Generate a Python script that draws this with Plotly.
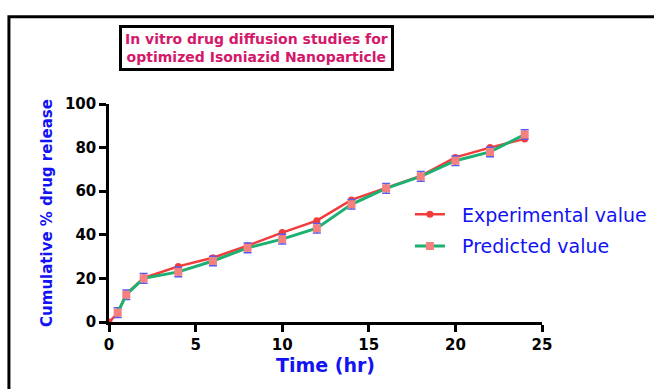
import plotly.graph_objects as go

time_exp = [0, 0.5, 1, 2, 4, 6, 8, 10, 12, 14, 16, 18, 20, 22, 24]
release_exp = [0, 4, 12.8, 20.2, 25.5, 29.5, 35, 41, 46.5, 56, 61.5, 67, 75.5, 80, 84]
time_pred = [0.5, 1, 2, 4, 6, 8, 10, 12, 14, 16, 18, 20, 22, 24]
release_pred = [4.3, 12.5, 20, 23, 28, 34, 38, 43, 54, 61.3, 66.8, 74, 78, 86]

x_ticks = [0, 5, 10, 15, 20, 25]
y_ticks = [0, 20, 40, 60, 80, 100]

title_text = "In vitro drug diffusion studies for<br>optimized Isoniazid Nanoparticle"

BLUE = "#1212f2"
TICKFONT = dict(family="DejaVu Sans", size=15, color="black", weight="bold")

fig = go.Figure()
fig.add_trace(go.Scatter(
    x=time_exp, y=release_exp, mode="lines+markers",
    name="  Experimental value", legendgroup="a",
    line=dict(color="#f23c3c", width=2.5),
    marker=dict(symbol="circle", size=7, color="#f23c3c"),
    cliponaxis=False,
))
fig.add_trace(go.Scatter(
    x=time_pred, y=release_pred, mode="lines+markers",
    name="  Predicted value", legendgroup="b",
    line=dict(color="#1cb072", width=3),
    marker=dict(symbol="square", size=8, color="#f58080"),
    error_y=dict(type="constant", value=2.2, color="#5a5aee", thickness=1.5, width=4),
    cliponaxis=False,
))

fig.update_layout(
    width=654, height=389,
    margin=dict(l=109, r=112, t=104, b=67, autoexpand=False),
    paper_bgcolor="white", plot_bgcolor="white",
    showlegend=True,
    legend=dict(
        x=0.695, xanchor="left", y=0.42, yanchor="middle",
        font=dict(family="DejaVu Sans", size=19, color=BLUE),
        bgcolor="rgba(0,0,0,0)", tracegroupgap=4, traceorder="grouped",
    ),
    xaxis=dict(
        range=[0, 25], tickvals=x_ticks, ticktext=[str(v) for v in x_ticks],
        showgrid=False, zeroline=False, showline=True, linecolor="black", linewidth=2.5,
        ticks="outside", ticklen=7, tickwidth=2.5, tickcolor="black",
        tickfont=TICKFONT,
        title=dict(text="Time (hr)", standoff=5,
                   font=dict(family="DejaVu Sans", size=19, color=BLUE, weight="bold")),
    ),
    yaxis=dict(
        range=[0, 100], tickvals=y_ticks, ticktext=[str(v) for v in y_ticks],
        showgrid=False, zeroline=False, showline=True, linecolor="black", linewidth=2.5,
        ticks="outside", ticklen=7, tickwidth=2.5, tickcolor="black",
        tickfont=TICKFONT,
        title=dict(text="Cumulative % drug release", standoff=9,
                   font=dict(family="DejaVu Sans", size=15, color=BLUE, weight="bold")),
    ),
    annotations=[dict(
        text=title_text, xref="paper", yref="paper",
        x=(256.5 - 109) / 432.7, y=(322 - 47.5) / 218,
        xanchor="center", yanchor="middle", showarrow=False,
        font=dict(family="DejaVu Sans", size=14, color="#d4186a", weight="bold"),
        bordercolor="black", borderwidth=3, borderpad=3, bgcolor="white",
    )],
    shapes=[dict(
        type="rect", xref="paper", yref="paper",
        x0=(9 - 109) / 432.7, x1=2.0, y0=-1.0, y1=(322 - 16.7) / 218,
        line=dict(color="black", width=3), fillcolor="rgba(0,0,0,0)", layer="below",
    )],
)

fig.write_html("out.html")
